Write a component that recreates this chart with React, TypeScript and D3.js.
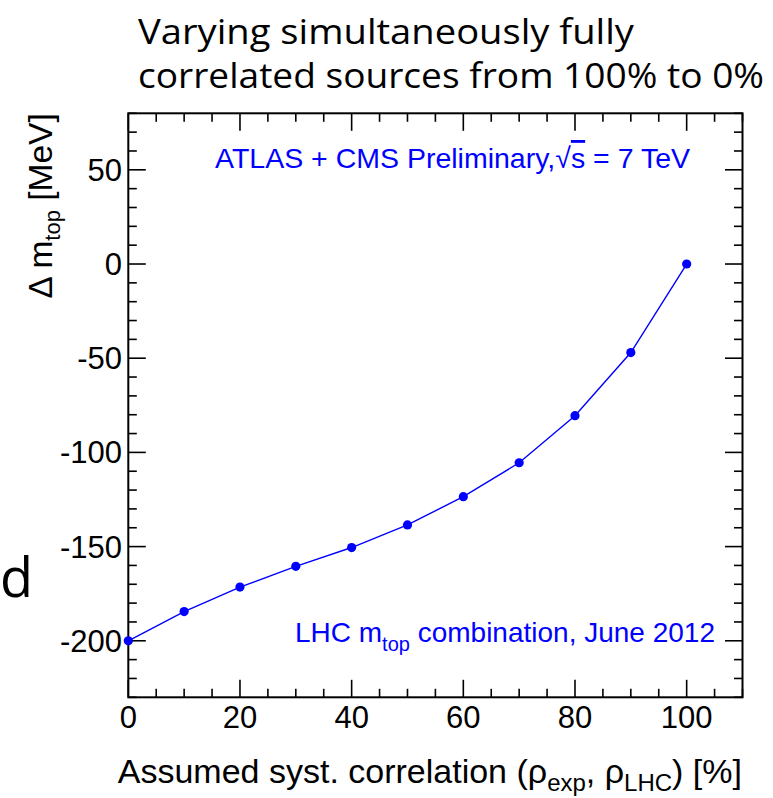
import React from "react";
import * as d3 from "d3";

// Assumed correlation (%) and resulting shift of the combined top mass (MeV)
const correlation = [0, 10, 20, 30, 40, 50, 60, 70, 80, 90, 100];
const deltaMtop = [-200, -184.5, -171.5, -160.5, -150.5, -138.5, -123.5, -105.5, -80.5, -47, 0];

const xMajorTicks = [0, 20, 40, 60, 80, 100];
const yMajorTicks = [50, 0, -50, -100, -150, -200];

const titleLines = ["Varying simultaneously fully", "correlated sources from 100% to 0%"];

const W = 773;
const H = 798;
const left = 128.3;
const right = 742.5;
const top = 113.3;
const bottom = 697.3;

const BLUE = "#0000ff";
const HELV = "'Liberation Sans', Arial, Helvetica, sans-serif";
const HUMAN = "'Open Sans', 'Noto Sans', sans-serif";

export default function App() {
  const x = d3.scaleLinear().domain([0, 110]).range([left, right]);
  const y = d3.scaleLinear().domain([-230, 80]).range([bottom, top]);

  const xMinor = d3.range(0, 110.01, 5).filter((v) => !xMajorTicks.includes(v));
  const yMinor = d3.range(-230, 80.01, 10).filter((v) => !yMajorTicks.includes(v));

  const line = d3
    .line<number>()
    .x((_, i) => x(correlation[i]))
    .y((d) => y(d));

  const major = 17.5;
  const minor = 8.5;

  return (
    <svg
      width={W}
      height={H}
      style={{ position: "absolute", left: 0, top: 0, background: "#fff" }}
    >
      <rect x={0} y={0} width={W} height={H} fill="#fff" />

      {/* slide title above the plot */}
      <text
        x={138}
        y={44}
        fontFamily={HUMAN}
        fontSize={35}
        fill="#000"
        textLength={496}
        lengthAdjust="spacingAndGlyphs"
      >
        {titleLines[0]}
      </text>
      <text
        x={138}
        y={88}
        fontFamily={HUMAN}
        fontSize={35}
        fill="#000"
        textLength={626}
        lengthAdjust="spacingAndGlyphs"
      >
        {titleLines[1]}
      </text>
      <text x={0} y={597} fontFamily={HUMAN} fontSize={54} fill="#000">
        d
      </text>

      {/* ticks on all four sides */}
      <g stroke="#000" strokeWidth={1.6}>
        {xMajorTicks.map((v) => (
          <g key={`xm${v}`}>
            <line x1={x(v)} x2={x(v)} y1={bottom} y2={bottom - major} />
            <line x1={x(v)} x2={x(v)} y1={top} y2={top + major} />
          </g>
        ))}
        {xMinor.map((v) => (
          <g key={`xn${v}`}>
            <line x1={x(v)} x2={x(v)} y1={bottom} y2={bottom - minor} />
            <line x1={x(v)} x2={x(v)} y1={top} y2={top + minor} />
          </g>
        ))}
        {yMajorTicks.map((v) => (
          <g key={`ym${v}`}>
            <line x1={left} x2={left + major} y1={y(v)} y2={y(v)} />
            <line x1={right} x2={right - major} y1={y(v)} y2={y(v)} />
          </g>
        ))}
        {yMinor.map((v) => (
          <g key={`yn${v}`}>
            <line x1={left} x2={left + minor} y1={y(v)} y2={y(v)} />
            <line x1={right} x2={right - minor} y1={y(v)} y2={y(v)} />
          </g>
        ))}
      </g>

      {/* frame */}
      <rect
        x={left}
        y={top}
        width={right - left}
        height={bottom - top}
        fill="none"
        stroke="#000"
        strokeWidth={2}
      />

      {/* tick labels */}
      <g fontFamily={HELV} fontSize={31} fill="#000">
        {xMajorTicks.map((v) => (
          <text key={`xl${v}`} x={x(v)} y={728} textAnchor="middle">
            {v}
          </text>
        ))}
        {yMajorTicks.map((v) => (
          <text
            key={`yl${v}`}
            x={122}
            y={y(v) + 11}
            textAnchor="end"
          >
            {v}
          </text>
        ))}
      </g>

      {/* axis titles */}
      <text
        x={742}
        y={783}
        textAnchor="end"
        fontFamily={HELV}
        fontSize={34}
        fill="#000"
      >
        Assumed syst. correlation (ρ
        <tspan fontSize={24} dy={8}>exp</tspan>
        <tspan dy={-8}>, ρ</tspan>
        <tspan fontSize={24} dy={8}>LHC</tspan>
        <tspan dy={-8}>) [%]</tspan>
      </text>
      <text
        transform={`translate(52,${top}) rotate(-90)`}
        textAnchor="end"
        fontFamily={HELV}
        fontSize={33.5}
        fill="#000"
      >
        Δ m
        <tspan fontSize={22} dy={8}>top</tspan>
        <tspan dy={-8}> [MeV]</tspan>
      </text>

      {/* annotations */}
      <text
        x={690}
        y={168}
        textAnchor="end"
        fontFamily={HELV}
        fontSize={28.5}
        fill={BLUE}
      >
        ATLAS + CMS Preliminary,√
        <tspan style={{ textDecoration: "overline" }}>s</tspan> = 7 TeV
      </text>
      <text
        x={715}
        y={641.5}
        textAnchor="end"
        fontFamily={HELV}
        fontSize={28}
        fill={BLUE}
      >
        LHC m
        <tspan fontSize={20} dy={9}>top</tspan>
        <tspan dy={-9}> combination, June 2012</tspan>
      </text>

      {/* data */}
      <path d={line(deltaMtop) ?? ""} fill="none" stroke={BLUE} strokeWidth={1.4} />
      {deltaMtop.map((v, i) => (
        <circle key={i} cx={x(correlation[i])} cy={y(v)} r={4.6} fill={BLUE} />
      ))}
    </svg>
  );
}
